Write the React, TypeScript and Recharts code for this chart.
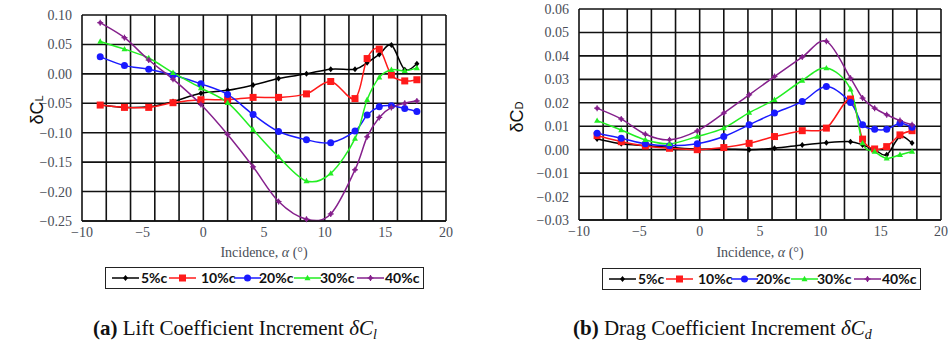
import React from 'react';
import { LineChart, Line, XAxis, YAxis, CartesianGrid } from 'recharts';

// Incidence angles (deg) at which each chordwise position was measured
const incidence = [-8.5, -6.5, -4.5, -2.5, -0.2, 2.0, 4.1, 6.2, 8.5, 10.5, 12.5, 13.5, 14.5, 15.5, 16.6, 17.6];

// Lift coefficient increment
const lift5 = [-0.053, -0.057, -0.056, -0.047, -0.033, -0.028, -0.019, -0.008, 0.0, 0.008, 0.008, 0.019, 0.033, 0.049, 0.007, 0.017];
const lift10 = [-0.053, -0.057, -0.057, -0.049, -0.044, -0.044, -0.04, -0.04, -0.034, -0.013, -0.042, 0.026, 0.042, -0.002, -0.012, -0.01];
const lift20 = [0.029, 0.014, 0.008, -0.002, -0.017, -0.035, -0.069, -0.098, -0.112, -0.117, -0.097, -0.07, -0.056, -0.054, -0.059, -0.064];
const lift30 = [0.055, 0.042, 0.027, 0.002, -0.024, -0.049, -0.095, -0.141, -0.182, -0.169, -0.11, -0.044, -0.006, 0.007, 0.005, 0.01];
const lift40 = [0.087, 0.0615, 0.0235, -0.009, -0.052, -0.103, -0.158, -0.217, -0.247, -0.238, -0.163, -0.107, -0.074, -0.057, -0.05, -0.046];

// Drag coefficient increment
const drag5 = [0.0045, 0.0025, 0.0017, 0.001, 0.0002, 0.0003, 0.0, 0.0006, 0.002, 0.003, 0.0034, 0.002, 0.0, -0.0022, 0.0056, 0.0028];
const drag10 = [0.006, 0.0034, 0.0016, 0.0006, 0.0, 0.0009, 0.0027, 0.0056, 0.0081, 0.0092, 0.0216, 0.0045, 0.0003, 0.0013, 0.0063, 0.0081];
const drag20 = [0.007, 0.0049, 0.0025, 0.0017, 0.0025, 0.0056, 0.0106, 0.0156, 0.0205, 0.0269, 0.0201, 0.0106, 0.0087, 0.0087, 0.0113, 0.0096];
const drag30 = [0.0124, 0.0084, 0.0042, 0.0025, 0.0056, 0.0092, 0.0158, 0.0213, 0.0295, 0.0348, 0.0258, 0.0028, -0.0008, -0.0037, -0.0022, -0.0008];
const drag40 = [0.0177, 0.0131, 0.0066, 0.0042, 0.008, 0.0156, 0.0234, 0.0312, 0.0395, 0.0462, 0.0305, 0.022, 0.0177, 0.0149, 0.0124, 0.0106];

const seriesNames = ['5%c', '10%c', '20%c', '30%c', '40%c'];
const seriesKeys = ['c5', 'c10', 'c20', 'c30', 'c40'];
const seriesColors = ['#000000', '#ff1a1a', '#1a1aff', '#22ee22', '#85208c'];
const seriesMarkers = ['diamond', 'square', 'circle', 'triangle', 'star'];

const incidenceTicks = [-10, -5, 0, 5, 10, 15, 20];
const liftTicks = [-0.25, -0.2, -0.15, -0.1, -0.05, 0, 0.05, 0.1];
const dragTicks = [-0.03, -0.02, -0.01, 0, 0.01, 0.02, 0.03, 0.04, 0.05, 0.06];

const buildRows = (cols: number[][]) =>
  incidence.map((a, i) => {
    const row: Record<string, number> = { alpha: a };
    seriesKeys.forEach((k, s) => { row[k] = cols[s][i]; });
    return row;
  });

const liftRows = buildRows([lift5, lift10, lift20, lift30, lift40]);
const dragRows = buildRows([drag5, drag10, drag20, drag30, drag40]);

// one grid line per degree
const degreeLines = Array.from({ length: 31 }, (_, i) => i - 10);

// spreadsheet-style smoothed line (uniform Catmull-Rom)
const smoothCurve = (context: any) => {
  let pts: number[][] = [];
  return {
    areaStart() {},
    areaEnd() {},
    lineStart() { pts = []; },
    point(x: number, y: number) { pts.push([+x, +y]); },
    lineEnd() {
      if (!pts.length) return;
      context.moveTo(pts[0][0], pts[0][1]);
      for (let i = 0; i < pts.length - 1; i++) {
        const p0 = pts[i - 1] || pts[i];
        const p1 = pts[i];
        const p2 = pts[i + 1];
        const p3 = pts[i + 2] || p2;
        context.bezierCurveTo(
          p1[0] + (p2[0] - p0[0]) / 6, p1[1] + (p2[1] - p0[1]) / 6,
          p2[0] - (p3[0] - p1[0]) / 6, p2[1] - (p3[1] - p1[1]) / 6,
          p2[0], p2[1]
        );
      }
    },
  };
};

const Marker = ({ kind, cx, cy, color }: { kind: string; cx: number; cy: number; color: string }) => {
  switch (kind) {
    case 'diamond':
      return <polygon points={`${cx},${cy - 3} ${cx + 2.5},${cy} ${cx},${cy + 3} ${cx - 2.5},${cy}`} fill={color} />;
    case 'square':
      return <rect x={cx - 3.5} y={cy - 3.5} width={7} height={7} fill={color} />;
    case 'circle':
      return <circle cx={cx} cy={cy} r={3.5} fill={color} />;
    case 'triangle':
      return <polygon points={`${cx},${cy - 3.2} ${cx + 3},${cy + 2.2} ${cx - 3},${cy + 2.2}`} fill={color} />;
    default:
      return (
        <g stroke={color} strokeWidth={1.2}>
          <line x1={cx - 3} y1={cy} x2={cx + 3} y2={cy} />
          <line x1={cx} y1={cy - 3} x2={cx} y2={cy + 3} />
          <circle cx={cx} cy={cy} r={1.4} fill={color} />
        </g>
      );
  }
};

const dotFor = (s: number) => (props: any) => {
  const { cx, cy, index } = props;
  if (cx == null || cy == null) return <g key={`d${s}-${index}`} />;
  return (
    <g key={`d${s}-${index}`}>
      <Marker kind={seriesMarkers[s]} cx={cx} cy={cy} color={seriesColors[s]} />
    </g>
  );
};

const serif = '"Liberation Serif", "Times New Roman", serif';
const tickStyle = { fontFamily: serif, fontSize: 14, fill: '#4a4e58', style: { fontFamily: serif } };
const fmt = (digits: number) => (v: number) => (v < 0 ? '\u2212' : '') + Math.abs(v).toFixed(digits);

const legendLines = [6, 63, 128, 188, 251];
const legendTexts = [35, 95, 153, 214, 279];

const ChartLegend = ({ left, top }: { left: number; top: number }) => (
  <div style={{ position: 'absolute', left, top, width: 319, height: 22, border: '1.5px solid #222', boxSizing: 'border-box', background: '#fff' }}>
    {seriesNames.map((name, s) => (
      <React.Fragment key={name}>
        <svg style={{ position: 'absolute', left: legendLines[s], top: 0 }} width={27} height={20}>
          <line x1={0} y1={10} x2={27} y2={10} stroke={seriesColors[s]} strokeWidth={1.5} />
          <Marker kind={seriesMarkers[s]} cx={13.5} cy={10} color={seriesColors[s]} />
        </svg>
        <span style={{ position: 'absolute', left: legendTexts[s], top: 1, fontFamily: 'Lato, sans-serif', fontWeight: 700, fontSize: 14, lineHeight: '18px', color: '#111' }}>
          {name}
        </span>
      </React.Fragment>
    ))}
  </div>
);

const AxisTitle = ({ cx, top }: { cx: number; top: number }) => (
  <div style={{ position: 'absolute', left: cx - 80, top, width: 160, textAlign: 'center', fontFamily: serif, fontSize: 14, color: '#4a4e58', lineHeight: '16px' }}>
    Incidence, <i>α</i> (°)
  </div>
);

const YTitle = ({ cx, cy, sub }: { cx: number; cy: number; sub: string }) => (
  <div style={{ position: 'absolute', left: cx - 30, top: cy - 11, width: 60, height: 22, textAlign: 'center', transform: 'rotate(-90deg)', fontFamily: '"Liberation Sans", sans-serif', fontSize: 18, lineHeight: '22px', color: '#111' }}>
    δC<span style={{ fontSize: 11 }}>{sub}</span>
  </div>
);

const Caption = ({ left, tag, text, sub }: { left: number; tag: string; text: string; sub: string }) => (
  <div style={{ position: 'absolute', left, top: 318, whiteSpace: 'nowrap', fontFamily: serif, fontSize: 21, lineHeight: 1, color: '#111' }}>
    <b>({tag})</b> {text} <i>δC</i><sub style={{ fontSize: 14, fontStyle: 'italic', verticalAlign: '-4px' }}>{sub}</sub>
  </div>
);

const IncrementChart = ({ rows, ticks, width, yWidth, top, right, xHeight }: any) => (
  <LineChart width={width} height={240} data={rows} margin={{ top, right, left: 0, bottom: 0 }}>
    <CartesianGrid verticalValues={degreeLines} horizontalValues={ticks} stroke="#111" strokeWidth={1.6} strokeOpacity={1} />
    <XAxis
      dataKey="alpha"
      type="number"
      domain={[-10, 20]}
      ticks={incidenceTicks}
      tickFormatter={fmt(0)}
      tick={tickStyle}
      tickLine={false}
      tickSize={4}
      tickMargin={2}
      height={xHeight}
      axisLine={{ stroke: '#111', strokeWidth: 1.6 }}
    />
    <YAxis
      type="number"
      domain={[ticks[0], ticks[ticks.length - 1]]}
      ticks={ticks}
      tickFormatter={fmt(2)}
      tick={tickStyle}
      tickLine={false}
      tickSize={6}
      tickMargin={4}
      width={yWidth}
      axisLine={{ stroke: '#111', strokeWidth: 1.6 }}
    />
    {seriesKeys.map((k, s) => (
      <Line
        key={k}
        dataKey={k}
        name={seriesNames[s]}
        type={smoothCurve as any}
        stroke={seriesColors[s]}
        strokeWidth={1.5}
        dot={dotFor(s)}
        activeDot={false}
        isAnimationActive={false}
      />
    ))}
  </LineChart>
);

export default function App() {
  return (
    <div style={{ position: 'absolute', left: 0, top: 0, width: 951, height: 347, background: '#fff', overflow: 'hidden' }}>
      <div style={{ position: 'absolute', left: 0, top: 0 }}>
        <IncrementChart rows={liftRows} ticks={liftTicks} width={470} yWidth={82} top={15} right={24} xHeight={19} />
      </div>
      <div style={{ position: 'absolute', left: 490, top: 0 }}>
        <IncrementChart rows={dragRows} ticks={dragTicks} width={461} yWidth={89} top={9} right={10} xHeight={20} />
      </div>

      <YTitle cx={37} cy={110} sub="L" />
      <YTitle cx={517} cy={117} sub="D" />

      <AxisTitle cx={264} top={245} />
      <AxisTitle cx={760} top={245} />

      <ChartLegend left={105} top={267} />
      <ChartLegend left={602} top={268} />

      <Caption left={93} tag="a" text="Lift Coefficient Increment" sub="l" />
      <Caption left={573} tag="b" text="Drag Coefficient Increment" sub="d" />
    </div>
  );
}
